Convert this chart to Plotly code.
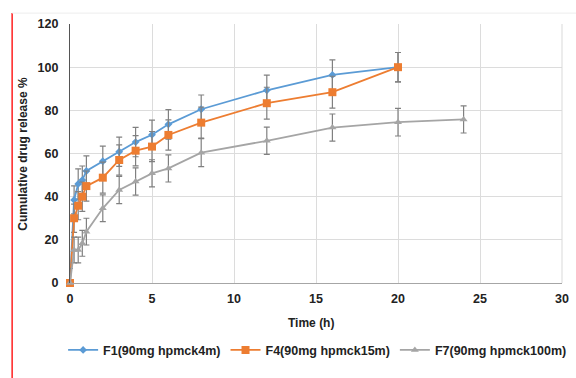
import plotly.graph_objects as go

# Data
time_f1 = [0, 0.25, 0.5, 0.75, 1, 2, 3, 4, 5, 6, 8, 12, 16, 20]
f1 = [0, 38.5, 45.9, 47.7, 51.9, 56.4, 60.8, 65.3, 68.7, 73.5, 80.5, 89.3, 96.4, 100]
f1_err = [0, 6.5, 7, 6.5, 7, 7, 6.8, 6.8, 6.8, 6.8, 6.6, 7, 7, 6.8]

time_f4 = [0, 0.25, 0.5, 0.75, 1, 2, 3, 4, 5, 6, 8, 12, 16, 20]
f4 = [0, 30, 35.8, 40, 44.9, 48.8, 57, 61.3, 63.2, 68.6, 74.3, 83.3, 88.4, 100]
f4_err = [0, 6.5, 6.5, 6.8, 7, 7.2, 7, 7, 7, 7, 7.2, 7.4, 7.4, 6.8]

time_f7 = [0, 0.25, 0.5, 0.75, 1, 2, 3, 4, 5, 6, 8, 12, 16, 20, 24]
f7 = [0, 15.3, 15.3, 18.4, 23.8, 34.6, 43.1, 47, 50.8, 53.1, 60.4, 65.9, 72, 74.5, 75.8]
f7_err = [6.8, 6, 6, 6, 6.2, 6.2, 6.3, 6.3, 6.3, 6.3, 6.5, 6.3, 6.3, 6.4, 6.3]

names = ["F1(90mg hpmck4m)", "F4(90mg hpmck15m)", "F7(90mg hpmck100m)"]
colors = ["#5B9BD5", "#ED7D31", "#A5A5A5"]
symbols = ["diamond", "square", "triangle-up"]
msizes = [6, 8, 7]

fig = go.Figure()
for t, v, e, n, c, s, ms in zip([time_f1, time_f4, time_f7], [f1, f4, f7],
                                [f1_err, f4_err, f7_err], names, colors, symbols, msizes):
    fig.add_trace(go.Scatter(
        x=t, y=v, name=n, mode="lines+markers",
        line=dict(color=c, width=1.8),
        marker=dict(symbol=s, size=ms, color=c),
        error_y=dict(type="data", array=e, visible=True, color="#808080", thickness=1.2, width=3),
        cliponaxis=False,
    ))

font_family = "Arial, Liberation Sans, sans-serif"
fig.update_layout(
    width=576, height=378,
    margin=dict(l=70, r=14, t=24, b=95, autoexpand=False),
    paper_bgcolor="white", plot_bgcolor="white",
    font=dict(family=font_family, size=12, color="#222"),
    showlegend=True,
    legend=dict(orientation="h", x=-0.014, xanchor="left", y=-0.26, yanchor="middle",
                font=dict(family=font_family, size=12.5, color="#222", weight="bold"),
                itemwidth=30, tracegroupgap=0),
    xaxis=dict(range=[0, 30], tickvals=[0, 5, 10, 15, 20, 25, 30],
               showgrid=True, gridcolor="#DCDCDC", gridwidth=1,
               showline=True, linecolor="#A6A6A6", linewidth=1, mirror=False,
               zeroline=False, ticks="", ticklabelstandoff=4,
               tickfont=dict(family=font_family, size=12.5, color="#222", weight="bold")),
    yaxis=dict(range=[0, 120], tickvals=[0, 20, 40, 60, 80, 100, 120],
               showgrid=True, gridcolor="#DCDCDC", gridwidth=1,
               showline=True, linecolor="#555555", linewidth=1.2,
               zeroline=False, ticks="", ticklabelstandoff=8,
               tickfont=dict(family=font_family, size=12.5, color="#222", weight="bold")),
    annotations=[
        dict(text="<b>Time (h)</b>", xref="paper", yref="paper", x=0.49, y=-0.155,
             xanchor="center", yanchor="middle", showarrow=False,
             font=dict(family=font_family, size=12, color="#222")),
        dict(text="<b>Cumulative drug release %</b>", xref="paper", yref="paper",
             x=-0.097, y=0.5, xanchor="center", yanchor="middle", textangle=-90,
             showarrow=False, font=dict(family=font_family, size=12, color="#222")),
    ],
    shapes=[
        dict(type="line", xref="paper", yref="paper", x0=-0.1176, x1=-0.1176,
             y0=1.042, y1=-0.37, line=dict(color="#FF2020", width=1.5)),
        dict(type="line", xref="paper", yref="paper", x0=-0.1176, x1=1.03,
             y0=1.042, y1=1.042, line=dict(color="#EEEEEE", width=1)),
        dict(type="line", xref="paper", yref="paper", x0=1, x1=1,
             y0=0, y1=1, line=dict(color="#D9D9D9", width=1)),
    ],
)

fig.write_html("out.html")
